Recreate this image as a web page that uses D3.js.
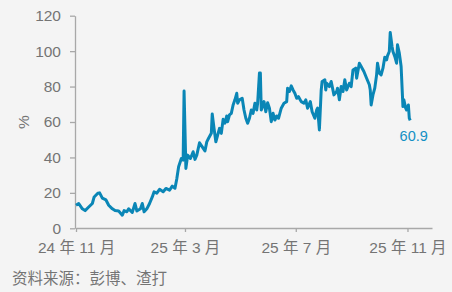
<!DOCTYPE html>
<html>
<head>
<meta charset="utf-8">
<script src="https://cdn.jsdelivr.net/npm/d3@7"></script>
<style>
  body { margin: 0; background: #f4f4f4; }
  svg { display: block; }
  text { font-family: "Liberation Sans", Arial, "Noto Sans CJK SC", sans-serif; }
</style>
</head>
<body>
<div id="chart"></div>
<script>
// data (trading days, %)
const dates = [
  "2024-11-01","2024-11-04","2024-11-08","2024-11-11","2024-11-15","2024-11-17","2024-11-19","2024-11-21",
  "2024-11-25","2024-11-27","2024-11-30","2024-12-04","2024-12-07","2024-12-11","2024-12-14","2024-12-18",
  "2024-12-22","2024-12-24","2024-12-27","2024-12-29","2025-01-02","2025-01-05","2025-01-07","2025-01-11",
  "2025-01-13","2025-01-15","2025-01-18","2025-01-21","2025-01-24","2025-01-26","2025-01-29","2025-02-01",
  "2025-02-05","2025-02-08","2025-02-12","2025-02-15","2025-02-18","2025-02-20","2025-02-22","2025-02-25",
  "2025-02-27","2025-02-28","2025-03-02","2025-03-04","2025-03-07","2025-03-10","2025-03-12","2025-03-14",
  "2025-03-17","2025-03-20","2025-03-23","2025-03-25","2025-03-27","2025-03-30","2025-03-31","2025-04-02",
  "2025-04-04","2025-04-06","2025-04-08","2025-04-10","2025-04-12","2025-04-14","2025-04-16","2025-04-17",
  "2025-04-19","2025-04-21","2025-04-23","2025-04-25","2025-04-27","2025-04-28","2025-04-30","2025-05-03",
  "2025-05-05","2025-05-07","2025-05-09","2025-05-11","2025-05-13","2025-05-15","2025-05-17","2025-05-19",
  "2025-05-20","2025-05-22","2025-05-23","2025-05-24","2025-05-27","2025-05-29","2025-05-31","2025-06-02",
  "2025-06-04","2025-06-06","2025-06-08","2025-06-10","2025-06-12","2025-06-15","2025-06-18","2025-06-21",
  "2025-06-22","2025-06-24","2025-06-26","2025-06-28","2025-06-30","2025-07-02","2025-07-04","2025-07-07",
  "2025-07-10","2025-07-12","2025-07-14","2025-07-17","2025-07-19","2025-07-22","2025-07-24","2025-07-25",
  "2025-07-27","2025-07-29","2025-07-30","2025-08-02","2025-08-03","2025-08-04","2025-08-07","2025-08-09",
  "2025-08-12","2025-08-15","2025-08-16","2025-08-18","2025-08-20","2025-08-22","2025-08-24","2025-08-26",
  "2025-08-29","2025-08-31","2025-09-02","2025-09-05","2025-09-06","2025-09-09","2025-09-11","2025-09-14",
  "2025-09-17","2025-09-20","2025-09-21","2025-09-22","2025-09-24","2025-09-26","2025-09-28","2025-09-29",
  "2025-10-01","2025-10-03","2025-10-05","2025-10-07","2025-10-09","2025-10-10","2025-10-12","2025-10-13",
  "2025-10-15","2025-10-16","2025-10-18","2025-10-20","2025-10-21","2025-10-23","2025-10-24","2025-10-25",
  "2025-10-27","2025-10-28","2025-10-30","2025-10-31","2025-11-02","2025-11-03","2025-11-04"
];
const values = [
  13, 14, 11, 10, 12, 13, 14, 17.7,
  19.8, 20, 17, 16, 13, 11, 10, 9.8,
  7.4, 10, 9.3, 11, 9, 14, 9.8, 11,
  14, 9.3, 11, 14, 17.7, 20.6, 19.8, 22,
  20.6, 22.5, 21.5, 23.8, 22.6, 28, 34.7, 39.4,
  38.5, 77.5, 33.8, 41.3, 39.4, 43.2, 38.9, 41.3,
  48.3, 46, 43.7, 48.8, 50.8, 53.6, 64.5, 56.4,
  48.8, 52.6, 56.4, 53.6, 61.5, 59.3, 63.4, 60.2,
  64, 64.9, 69.6, 72.5, 76.2, 70.6, 72.5, 73.4,
  66.8, 62.1, 59.3, 62.1, 66.8, 64.9, 70.6, 66.8,
  70.6, 87.6, 87.6, 66.8, 71.5, 65.8, 70.9, 67.8,
  60.2, 64.9, 61.1, 63.4, 62.1, 67.8, 70.6, 71.5,
  79.1, 77.2, 80.4, 78.1, 76.2, 73.4, 74.3, 71.5,
  70.6, 72.5, 67.8, 71.5, 65.8, 62.1, 66.8, 67.8,
  55.5, 78, 82.9, 83.8, 78.1, 81.9, 80, 82.9,
  75.3, 77.2, 79.1, 72.5, 80, 77.2, 83.8, 78.1,
  81.9, 80, 89.4, 90.4, 84.7, 93.2, 91.3, 88.5,
  84.7, 81, 78.1, 69.6, 75.3, 79.1, 86.6, 93.2,
  87.6, 86.6, 90.4, 96.6, 95.1, 97.3, 99.8, 110.5,
  102.6, 99.8, 97, 93.2, 103.6, 98.9, 95.1, 91.3,
  68.7, 72.5, 67.8, 66.8, 69.6, 62.1, 60.9
];
const yTicks = [0, 20, 40, 60, 80, 100, 120];
const xTickDates = ["2024-11-01", "2025-03-01", "2025-07-01", "2025-11-01"];
const xTickLabels = ["24 年 11 月", "25 年 3 月", "25 年 7 月", "25 年 11 月"];
const lastLabel = "60.9";
const yTitle = "%";
const source = "资料来源：彭博、渣打";

const W = 452, H = 292;
const parse = d3.timeParse("%Y-%m-%d");
const data = dates.map((d, i) => ({date: parse(d), value: values[i]}));

const svg = d3.select("#chart")
  .append("svg")
  .attr("width", W)
  .attr("height", H);

svg.append("rect")
  .attr("width", W)
  .attr("height", H)
  .attr("fill", "#f4f4f4");

const x = d3.scaleTime()
  .domain([parse("2024-11-01"), parse("2025-11-28")])
  .range([76, 432]);

const y = d3.scaleLinear()
  .domain([0, 120])
  .range([228.3, 15.7]);

const axisColor = "#a8a8a8";
const labelColor = "#747474";

// y axis
const gy = svg.append("g")
  .attr("transform", "translate(75,0)")
  .call(d3.axisLeft(y).tickValues(yTicks).tickSize(5).tickSizeOuter(0).tickPadding(9));
gy.select(".domain").attr("stroke", axisColor).attr("stroke-width", 1.3);
gy.selectAll(".tick line").attr("stroke", axisColor).attr("stroke-width", 1.3);
gy.selectAll(".tick text")
  .attr("fill", labelColor)
  .style("font-size", "15.5px");

// x axis
const gx = svg.append("g")
  .attr("transform", "translate(0,228)")
  .call(d3.axisBottom(x)
    .tickValues(xTickDates.map(parse))
    .tickFormat((d, i) => xTickLabels[i])
    .tickSize(4).tickSizeOuter(0).tickPadding(9.5));
gx.select(".domain").attr("stroke", axisColor).attr("stroke-width", 1.3);
gx.selectAll(".tick line").attr("stroke", axisColor).attr("stroke-width", 1.3);
gx.selectAll(".tick text")
  .attr("fill", labelColor)
  .style("font-size", "15.5px");

// the line
const line = d3.line()
  .x(d => x(d.date))
  .y(d => y(d.value));

svg.append("path")
  .datum(data)
  .attr("fill", "none")
  .attr("stroke", "#0a86b6")
  .attr("stroke-width", 3)
  .attr("stroke-linejoin", "round")
  .attr("d", line);

// end label
const last = data[data.length - 1];
svg.append("text")
  .attr("x", x(last.date) + 3.5)
  .attr("y", y(last.value) + 20.5)
  .attr("text-anchor", "middle")
  .attr("fill", "#1390c4")
  .style("font-size", "14.5px")
  .text(lastLabel);

// y title
svg.append("text")
  .attr("transform", "translate(24,122) rotate(-90)")
  .attr("text-anchor", "middle")
  .attr("dy", "0.35em")
  .attr("fill", labelColor)
  .style("font-size", "15.5px")
  .text(yTitle);

// source note
svg.append("text")
  .attr("x", 12)
  .attr("y", 284)
  .attr("fill", labelColor)
  .style("font-size", "15.5px")
  .text(source);
</script>
</body>
</html>
